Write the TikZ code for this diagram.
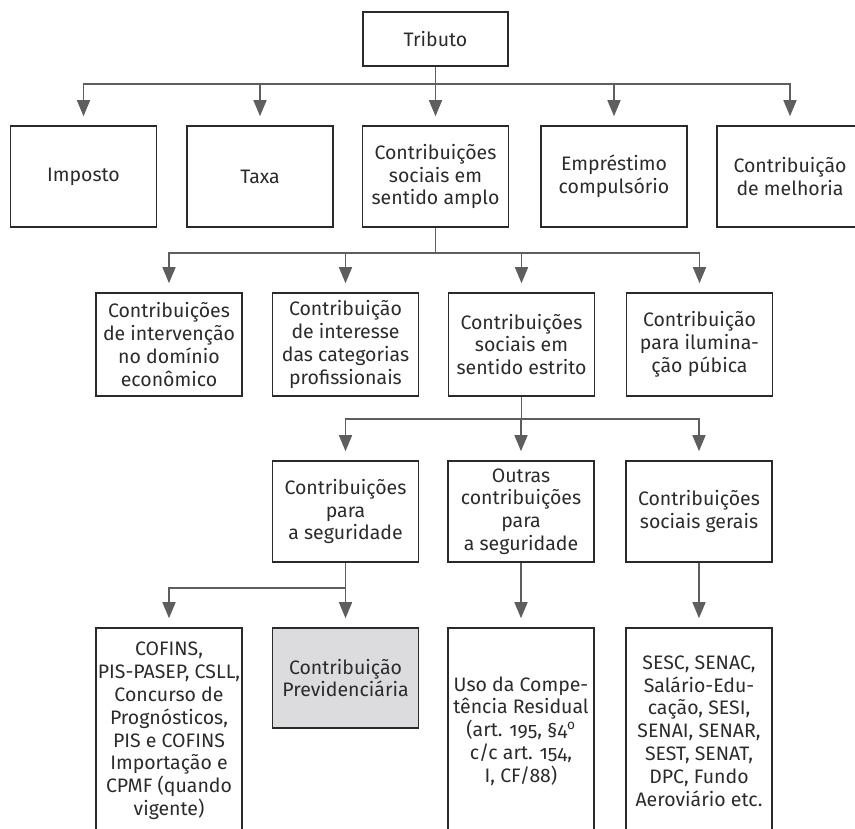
\documentclass[tikz,border=0pt]{standalone}
\usepackage{fontspec}
\setmainfont{Fira Sans}[Numbers=OldStyle]
\usetikzlibrary{arrows.meta}
\definecolor{boxline}{HTML}{2A2A2A}
\definecolor{connline}{HTML}{5E5E5E}
\definecolor{txt}{HTML}{2B2B2B}
\definecolor{grayfill}{HTML}{DCDCDE}
\begin{document}
\begin{tikzpicture}[x=1pt,y=-1pt,
  box/.style={draw=boxline, line width=1.6pt, rectangle, inner sep=0pt,
    minimum width=146pt, align=center, text=txt,
    font=\fontsize{19.5}{22.8}\selectfont},
  conn/.style={draw=connline, line width=1.6pt, shorten >=9pt,
    -{Triangle[length=16pt,width=13pt]}}]
\useasboundingbox (0,0) rectangle (855,829);
\clip (0,0) rectangle (855,829);
% row 0
\node[box, minimum width=145pt, minimum height=54pt] (trib) at (435.5,39) {Tributo};
% row 1
\node[box, minimum height=101pt] (imp) at (83.5,176.5) {Imposto};
\node[box, minimum height=101pt] (tax) at (260,176.5) {Taxa};
\node[box, minimum height=101pt] (amp) at (435.5,176.5) {Contribuições\\sociais em\\sentido amplo};
\node[box, minimum height=101pt] (emp) at (614,176.5) {Empréstimo\\compulsório};
\node[box, minimum height=101pt] (mel) at (790,176.5) {Contribuição\\de melhoria};
% row 2
\node[box, minimum height=103pt] (int) at (169,344.5) {Contribuições\\de intervenção\\no domínio\\econômico};
\node[box, minimum height=103pt] (cat) at (345.5,344.5) {Contribuição\\de interesse\\das categorias\\profissionais};
\node[box, minimum height=103pt] (est) at (521.5,344.5) {Contribuições\\sociais em\\sentido estrito};
\node[box, minimum height=103pt] (ilu) at (699.5,344.5) {Contribuição\\para ilumina-\\ção púbica};
% row 3
\node[box, minimum height=101pt] (seg) at (345.5,511.5) {Contribuições\\para\\a seguridade};
\node[box, minimum height=101pt] (out) at (521,511.5) {Outras\\contribuições\\para\\a seguridade};
\node[box, minimum height=101pt] (ger) at (699,511.5) {Contribuições\\sociais gerais};
% row 4
\node[box, minimum height=206pt] (cof) at (169,731) {COFINS,\\PIS-PASEP, CSLL,\\Concurso de\\Prognósticos,\\PIS e COFINS\\Importação e\\CPMF (quando\\vigente)};
\node[box, minimum height=100pt, fill=grayfill] (pre) at (345.5,678) {Contribuição\\Previdenciária};
\node[box, minimum height=206pt] (uso) at (521,731) {Uso da Compe-\\tência Residual\\(art. 195, §4\textsuperscript{o}\\c/c art. 154,\\I, CF/88)};
\node[box, minimum height=206pt] (ses) at (699,731) {SESC, SENAC,\\Salário-Edu-\\cação, SESI,\\SENAI, SENAR,\\SEST, SENAT,\\DPC, Fundo\\Aeroviário etc.};
% connectors
\foreach \c in {imp,tax,amp,emp,mel}
  \draw[conn] (trib.south) -- ++(0,17) -| (\c.north);
\foreach \c in {int,cat,est,ilu}
  \draw[conn] (amp.south) -- ++(0,25) -| (\c.north);
\foreach \c in {seg,out,ger}
  \draw[conn] (est.south) -- ++(0,22) -| (\c.north);
\foreach \c in {cof,pre}
  \draw[conn] (seg.south) -- ++(0,25) -| (\c.north);
\draw[conn] (out.south) -- (uso.north);
\draw[conn] (ger.south) -- (ses.north);
\end{tikzpicture}
\end{document}
